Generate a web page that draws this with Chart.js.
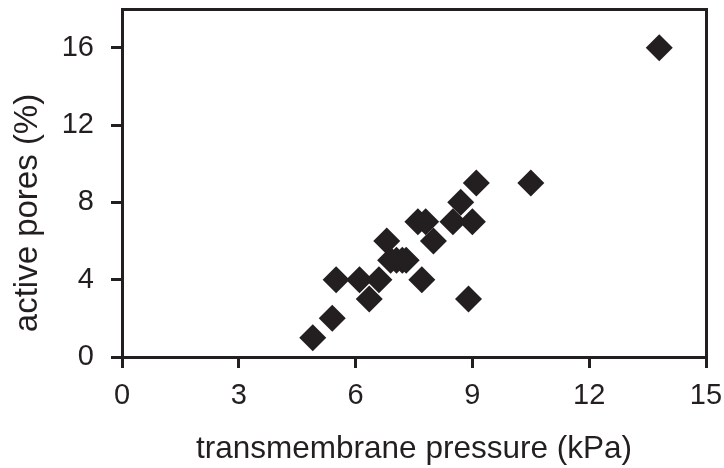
<!DOCTYPE html>
<html>
<head>
<meta charset="utf-8">
<script src="https://cdn.jsdelivr.net/npm/chart.js@4"></script>
<style>
  html, body { margin: 0; padding: 0; background: #fff; }
  #wrap { width: 724px; height: 468px; }
</style>
</head>
<body>
<div id="wrap"><canvas id="scatter" width="724" height="468"></canvas></div>
<script>
// values
const pressure = [4.9, 5.4, 5.5, 6.1, 6.35, 6.6, 6.8, 6.9, 7.05, 7.2, 7.3, 7.6, 7.7, 7.8, 8.0, 8.5, 8.7, 8.9, 9.0, 9.1, 10.5, 13.8];
const activePores = [1, 2, 4, 4, 3, 4, 6, 5, 5, 5, 5, 7, 4, 7, 6, 7, 8, 3, 7, 9, 9, 16];
const xTicks = [0, 3, 6, 9, 12, 15];
const yTicks = [0, 4, 8, 12, 16];
const xTitle = 'transmembrane pressure (kPa)';
const yTitle = 'active pores (%)';

const INK = '#231f20';
const FONT = "'Liberation Sans', Arial, sans-serif";

const points = pressure.map((x, i) => ({ x: x, y: activePores[i] }));

// y title sits a bit below the plot centre in the original, so draw it by hand
const yTitlePlugin = {
  id: 'yTitle',
  afterDraw(chart) {
    const { ctx, chartArea } = chart;
    ctx.save();
    ctx.translate(28, (chartArea.top + chartArea.bottom) / 2 + 30);
    ctx.rotate(-Math.PI / 2);
    ctx.font = '33px ' + FONT;
    ctx.fillStyle = INK;
    ctx.textAlign = 'center';
    ctx.textBaseline = 'middle';
    ctx.fillText(yTitle, 0, 0);
    ctx.restore();
  }
};

// no extra room for labels hanging off the ends
const noEdgePad = s => { s.paddingTop = 0; s.paddingBottom = 0; s.paddingLeft = 0; s.paddingRight = 0; };

const axisGrid = { display: true, drawOnChartArea: false, drawTicks: true, tickLength: 11, tickWidth: 3, tickColor: INK, lineWidth: 3, color: INK };
const axisBorder = { display: true, color: INK, width: 3 };

new Chart(document.getElementById('scatter'), {
  type: 'scatter',
  data: {
    datasets: [{
      data: points,
      pointStyle: 'rectRot',
      pointRadius: 13.5,
      pointHoverRadius: 13.5,
      backgroundColor: INK,
      borderColor: INK,
      borderWidth: 0
    }]
  },
  options: {
    responsive: false,
    animation: false,
    events: [],
    layout: { autoPadding: false, padding: { top: 9, right: 18, left: 0, bottom: 0 } },
    plugins: { legend: { display: false }, tooltip: { enabled: false } },
    scales: {
      x: {
        type: 'linear', position: 'bottom', min: 0, max: 15,
        afterBuildTicks: s => { s.ticks = xTicks.map(v => ({ value: v })); },
        afterFit: s => { s.height = 111; noEdgePad(s); },
        ticks: { color: INK, font: { family: FONT, size: 29 }, padding: 11, maxRotation: 0, autoSkip: false },
        grid: axisGrid,
        border: axisBorder,
        title: { display: true, text: xTitle, color: INK, font: { family: FONT, size: 31.5 }, padding: { top: 0, bottom: 0 } }
      },
      y: {
        type: 'linear', position: 'left', min: 0, max: 18,
        afterBuildTicks: s => { s.ticks = yTicks.map(v => ({ value: v })); },
        afterFit: s => { s.width = 122; noEdgePad(s); },
        ticks: { color: INK, font: { family: FONT, size: 29 }, padding: 17, autoSkip: false },
        grid: axisGrid,
        border: axisBorder
      },
      xTop: {
        type: 'linear', position: 'top', min: 0, max: 15,
        afterFit: s => { s.height = 0; noEdgePad(s); },
        ticks: { display: false },
        grid: { display: false, drawTicks: false },
        border: axisBorder
      },
      yRight: {
        type: 'linear', position: 'right', min: 0, max: 18,
        afterFit: s => { s.width = 0; noEdgePad(s); },
        ticks: { display: false },
        grid: { display: false, drawTicks: false },
        border: axisBorder
      }
    }
  },
  plugins: [yTitlePlugin]
});
</script>
</body>
</html>
